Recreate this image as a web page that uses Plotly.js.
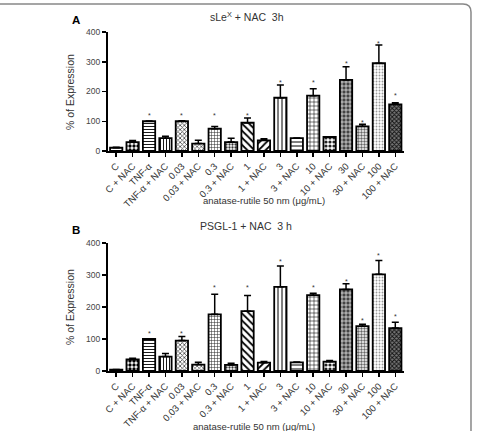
<!DOCTYPE html>
<html>
<head>
<meta charset="utf-8">
<script src="https://cdn.plot.ly/plotly-3.0.1.min.js"></script>
<style>html,body{margin:0;padding:0;background:#fff;}#chart{width:477px;height:431px;}</style>
</head>
<body>
<div id="chart"></div>
<script>
// ---- data ----
const categories = ["C","C + NAC","TNF-α","TNF-α + NAC","0.03","0.03 + NAC","0.3","0.3 + NAC","1","1 + NAC","3","3 + NAC","10","10 + NAC","30","30 + NAC","100","100 + NAC"];
const valuesA = [11,30,100,43,100,25,75,30,95,36,179,43,186,47,239,83,295,157];
const errTopA = [13,35,101,50,102,36,82,43,111,41,222,44,209,48,283,90,356,162];
const starsA  = [null,null,127,null,127,null,127,null,127,null,236,null,236,null,301,104,369,192];
const valuesB = [4,36,100,45,95,20,177,19,187,26,263,27,237,29,255,140,302,134];
const errTopB = [5,40,101,55,108,27,240,24,236,30,328,28,243,33,273,146,345,152];
const starsB  = [null,null,125,null,125,null,266,null,266,null,349,null,267,null,287,165,368,178];
const yTicks = [0,100,200,300,400];

// ---- styles ----
const patShape = ["", ".", "-", "|", "x", "x", "+", ".", "\\", "/", "|", "-", "+", ".", "+", ".", ".", "x"];
const patSize  = [4, 4, 3, 3, 3, 3, 3, 3, 5, 5, 4, 4, 4, 4, 4, 3, 3, 3];
const patSolid = [0.3,0.55,0.3,0.3,0.45,0.45,0.3,0.45,0.35,0.35,0.25,0.25,0.25,0.5,0.3,0.5,0.3,0.5];
const patFg    = ["#000","#000","#000","#000","#444","#555","#222","#333","#000","#000","#000","#000","#000","#222","#fff","#666","#999","#111"];
const patBg    = ["#fff","#fff","#fff","#fff","#fff","#fff","#fff","#fff","#fff","#fff","#fff","#fff","#fff","#fff","#444","#fff","#fff","#777"];
const font = "Liberation Sans, Arial, sans-serif";
const idx = categories.map((c, i) => i);

function barTrace(vals, errTop, xa, ya) {
  return {
    type: "bar", x: idx, y: vals, xaxis: xa, yaxis: ya,
    marker: {
      color: "#fff",
      line: {color: "#000", width: 1.8},
      pattern: {shape: patShape, size: patSize, solidity: patSolid, fgcolor: patFg, bgcolor: patBg, fillmode: "replace"}
    },
    error_y: {type: "data", symmetric: false, array: errTop.map((e, i) => e - vals[i]), arrayminus: vals.map(() => 0),
              color: "#000", thickness: 1.5, width: 3.5},
    hoverinfo: "none", showlegend: false
  };
}

function xAx(anchor) {
  return {anchor: anchor, domain: [108/477, 403.5/477], type: "linear", range: [-0.5, 17.5],
    tickmode: "array", tickvals: idx, ticktext: categories, tickangle: -45,
    tickfont: {family: font, size: 9.5, color: "#333"}, ticks: "outside", ticklen: 4, tickwidth: 1.5,
    tickcolor: "#000", showline: true, linewidth: 2, linecolor: "#000", showgrid: false, zeroline: false,
    automargin: false, fixedrange: true};
}
function yAx(anchor, domain) {
  return {anchor: anchor, domain: domain, range: [0, 400], tickvals: yTicks, ticks: "outside", ticklen: 4,
    tickwidth: 1.5, tickcolor: "#000", showline: true, linewidth: 2, linecolor: "#000", showgrid: false,
    zeroline: false, tickfont: {family: font, size: 8.5, color: "#444"}, automargin: false, fixedrange: true};
}

const ann = [];
function starAnn(stars, xr, yr) {
  stars.forEach((s, i) => {
    if (s !== null) ann.push({x: i, y: s, xref: xr, yref: yr, text: "*", showarrow: false,
      font: {family: font, size: 7, color: "#333"}, yanchor: "middle", yshift: -2});
  });
}
starAnn(starsA, "x", "y");
starAnn(starsB, "x2", "y2");

function paperText(text, x, y, size, opts) {
  ann.push(Object.assign({x: x/477, y: 1 - y/431, xref: "paper", yref: "paper", text: text, showarrow: false,
    font: {family: font, size: size, color: "#333"}, xanchor: "center", yanchor: "middle"}, opts || {}));
}
paperText("<b>A</b>", 76, 20, 11.5, {font: {family: font, size: 11.5, color: "#000"}});
paperText("<b>B</b>", 76, 230, 11.5, {font: {family: font, size: 11.5, color: "#000"}});
paperText("sLe<sup>X</sup> + NAC\u00a0 3h", 247, 17, 10.5);
paperText("PSGL-1 + NAC\u00a0 3 h", 246, 226, 10.5);
paperText("anatase-rutile 50 nm (μg/mL)", 264, 200, 9.5);
paperText("anatase-rutile 50 nm (μg/mL)", 254, 426, 9.5);
paperText("% of Expression", 70, 92, 10.5, {textangle: -90});
paperText("% of Expression", 70, 307, 10.5, {textangle: -90});

const layout = {
  width: 477, height: 431, margin: {l: 0, r: 0, t: 0, b: 0}, paper_bgcolor: "#fff", plot_bgcolor: "rgba(0,0,0,0)",
  bargap: 0.25, showlegend: false,
  xaxis: xAx("y"), yaxis: yAx("x", [1 - 151/431, 1 - 32/431]),
  xaxis2: xAx("y2"), yaxis2: yAx("x2", [1 - 371/431, 1 - 243/431]),
  annotations: ann,
  shapes: [{type: "path", xref: "paper", yref: "paper",
    path: "M -0.01,0.9907 L 0.9706,0.9907 Q 0.9874,0.9907 0.9874,0.9722 L 0.9874,-0.01",
    line: {color: "#888", width: 1.5}}]
};

Plotly.newPlot("chart", [barTrace(valuesA, errTopA, "x", "y"), barTrace(valuesB, errTopB, "x2", "y2")], layout,
  {displayModeBar: false, staticPlot: true});
</script>
</body>
</html>
